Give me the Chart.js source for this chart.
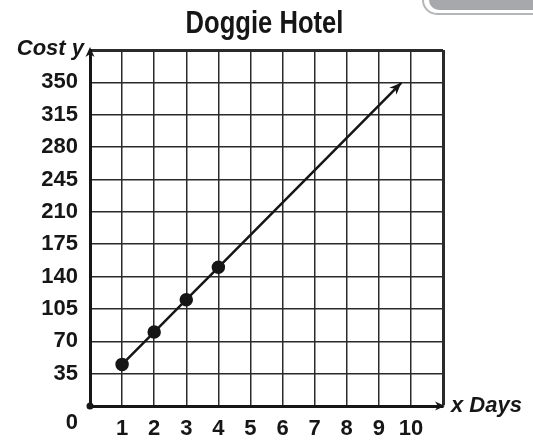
<!DOCTYPE html>
<html>
<head>
<meta charset="utf-8">
<script src="https://cdn.jsdelivr.net/npm/chart.js@4.4.1/dist/chart.umd.min.js"></script>
<style>
  html, body { margin: 0; padding: 0; background: #fff; }
  #wrap { width: 533px; height: 440px; }
</style>
</head>
<body>
<div id="wrap"><canvas id="hotelChart" width="533" height="440"></canvas></div>
<script>
// data
const days = [1, 2, 3, 4];
const costs = [45, 80, 115, 150];
const lineEnd = [9.7, 349.5]; // where the arrow on the line stops
const xLabels = [1, 2, 3, 4, 5, 6, 7, 8, 9, 10];
const yLabels = [35, 70, 105, 140, 175, 210, 245, 280, 315, 350];

const ink = '#161616';
const gridInk = '#2a2a2a';
const font = "'Liberation Sans', Arial, sans-serif";

// the picture's own marks that Chart.js has no option for
const extras = {
  id: 'extras',
  beforeDraw(chart) {
    // grey banner cut off at the top right
    const ctx = chart.ctx;
    ctx.save();
    ctx.strokeStyle = '#b4b5b8';
    ctx.lineWidth = 2;
    ctx.beginPath();
    ctx.roundRect(423, -30, 140, 44, 14);
    ctx.stroke();
    ctx.fillStyle = '#a7a8ab';
    ctx.beginPath();
    ctx.roundRect(429, -30, 130, 40, 10);
    ctx.fill();
    ctx.restore();
  },
  afterDraw(chart) {
    const { ctx, chartArea: a, scales: { x, y } } = chart;
    ctx.save();
    ctx.fillStyle = ink;

    function arrow(tx, ty, ang, len, half) {
      ctx.save();
      ctx.translate(tx, ty);
      ctx.rotate(ang);
      ctx.beginPath();
      ctx.moveTo(0, 0);
      ctx.lineTo(-len, -half);
      ctx.lineTo(-len * 0.7, 0);
      ctx.lineTo(-len, half);
      ctx.closePath();
      ctx.fill();
      ctx.restore();
    }

    // axis arrows
    arrow(a.left, a.top - 3, -Math.PI / 2, 10, 4.5);
    arrow(a.right + 2, a.bottom, 0, 10, 4.5);

    // arrow on the cost line
    const x1 = x.getPixelForValue(days[days.length - 1]);
    const y1 = y.getPixelForValue(costs[costs.length - 1]);
    const x2 = x.getPixelForValue(lineEnd[0]);
    const y2 = y.getPixelForValue(lineEnd[1]);
    arrow(x2, y2, Math.atan2(y2 - y1, x2 - x1), 12, 5);

    // dot at the origin
    ctx.beginPath();
    ctx.arc(a.left, a.bottom, 3.5, 0, Math.PI * 2);
    ctx.fill();

    // axis titles
    ctx.font = 'italic bold 22px ' + font;
    ctx.textAlign = 'right';
    ctx.textBaseline = 'alphabetic';
    ctx.fillText('Cost y', a.left - 6, a.top + 5);
    ctx.textAlign = 'left';
    ctx.textBaseline = 'middle';
    ctx.fillText('x Days', a.right + 8, a.bottom);

    // title, squeezed to look like the narrow display face
    ctx.font = 'bold 32px ' + font;
    ctx.textAlign = 'center';
    ctx.textBaseline = 'alphabetic';
    ctx.translate((a.left + a.right) / 2 - 2, 33);
    ctx.scale(0.8, 1);
    ctx.fillText('Doggie Hotel', 0, 0);
    ctx.restore();
  }
};

const ctx = document.getElementById('hotelChart').getContext('2d');
const hotelChart = new Chart(ctx, {
  type: 'line',
  data: {
    datasets: [{
      data: days.map((d, i) => ({ x: d, y: costs[i] })).concat([{ x: lineEnd[0], y: lineEnd[1] }]),
      borderColor: ink,
      backgroundColor: ink,
      borderWidth: 2.5,
      pointRadius: days.map(() => 5.5).concat([0]),
      pointHoverRadius: 5.5,
      fill: false,
      tension: 0
    }]
  },
  options: {
    responsive: false,
    maintainAspectRatio: false,
    animation: false,
    devicePixelRatio: 1,
    layout: { padding: { left: 0, right: 90, top: 50, bottom: 0 } },
    plugins: {
      legend: { display: false },
      tooltip: { enabled: false },
      title: { display: false }
    },
    scales: {
      x: {
        type: 'linear',
        min: 0,
        max: 11,
        afterFit: s => { s.height = 34; s.paddingLeft = 0; s.paddingRight = 0; },
        border: { display: true, color: ink, width: 3 },
        grid: {
          color: gridInk,
          lineWidth: c => (c.tick && c.tick.value === 11 ? 3 : 1.5),
          drawTicks: false
        },
        ticks: {
          stepSize: 1,
          padding: 10,
          color: ink,
          maxRotation: 0,
          autoSkip: false,
          font: { family: font, size: 22, weight: 'bold' },
          callback: v => (xLabels.includes(v) ? String(v) : '')
        }
      },
      y: {
        min: 0,
        max: 385,
        afterFit: s => { s.width = 90; s.paddingTop = 0; s.paddingBottom = 0; },
        border: { display: true, color: ink, width: 3 },
        grid: {
          color: gridInk,
          lineWidth: c => (c.tick && c.tick.value === 385 ? 3 : 1.5),
          drawTicks: false
        },
        ticks: {
          stepSize: 35,
          padding: 12,
          color: ink,
          autoSkip: false,
          font: { family: font, size: 22, weight: 'bold', lineHeight: 1.5 },
          callback: v => (v === 0 ? ['', '0'] : yLabels.includes(v) ? String(v) : '')
        }
      }
    }
  },
  plugins: [extras]
});
</script>
</body>
</html>
